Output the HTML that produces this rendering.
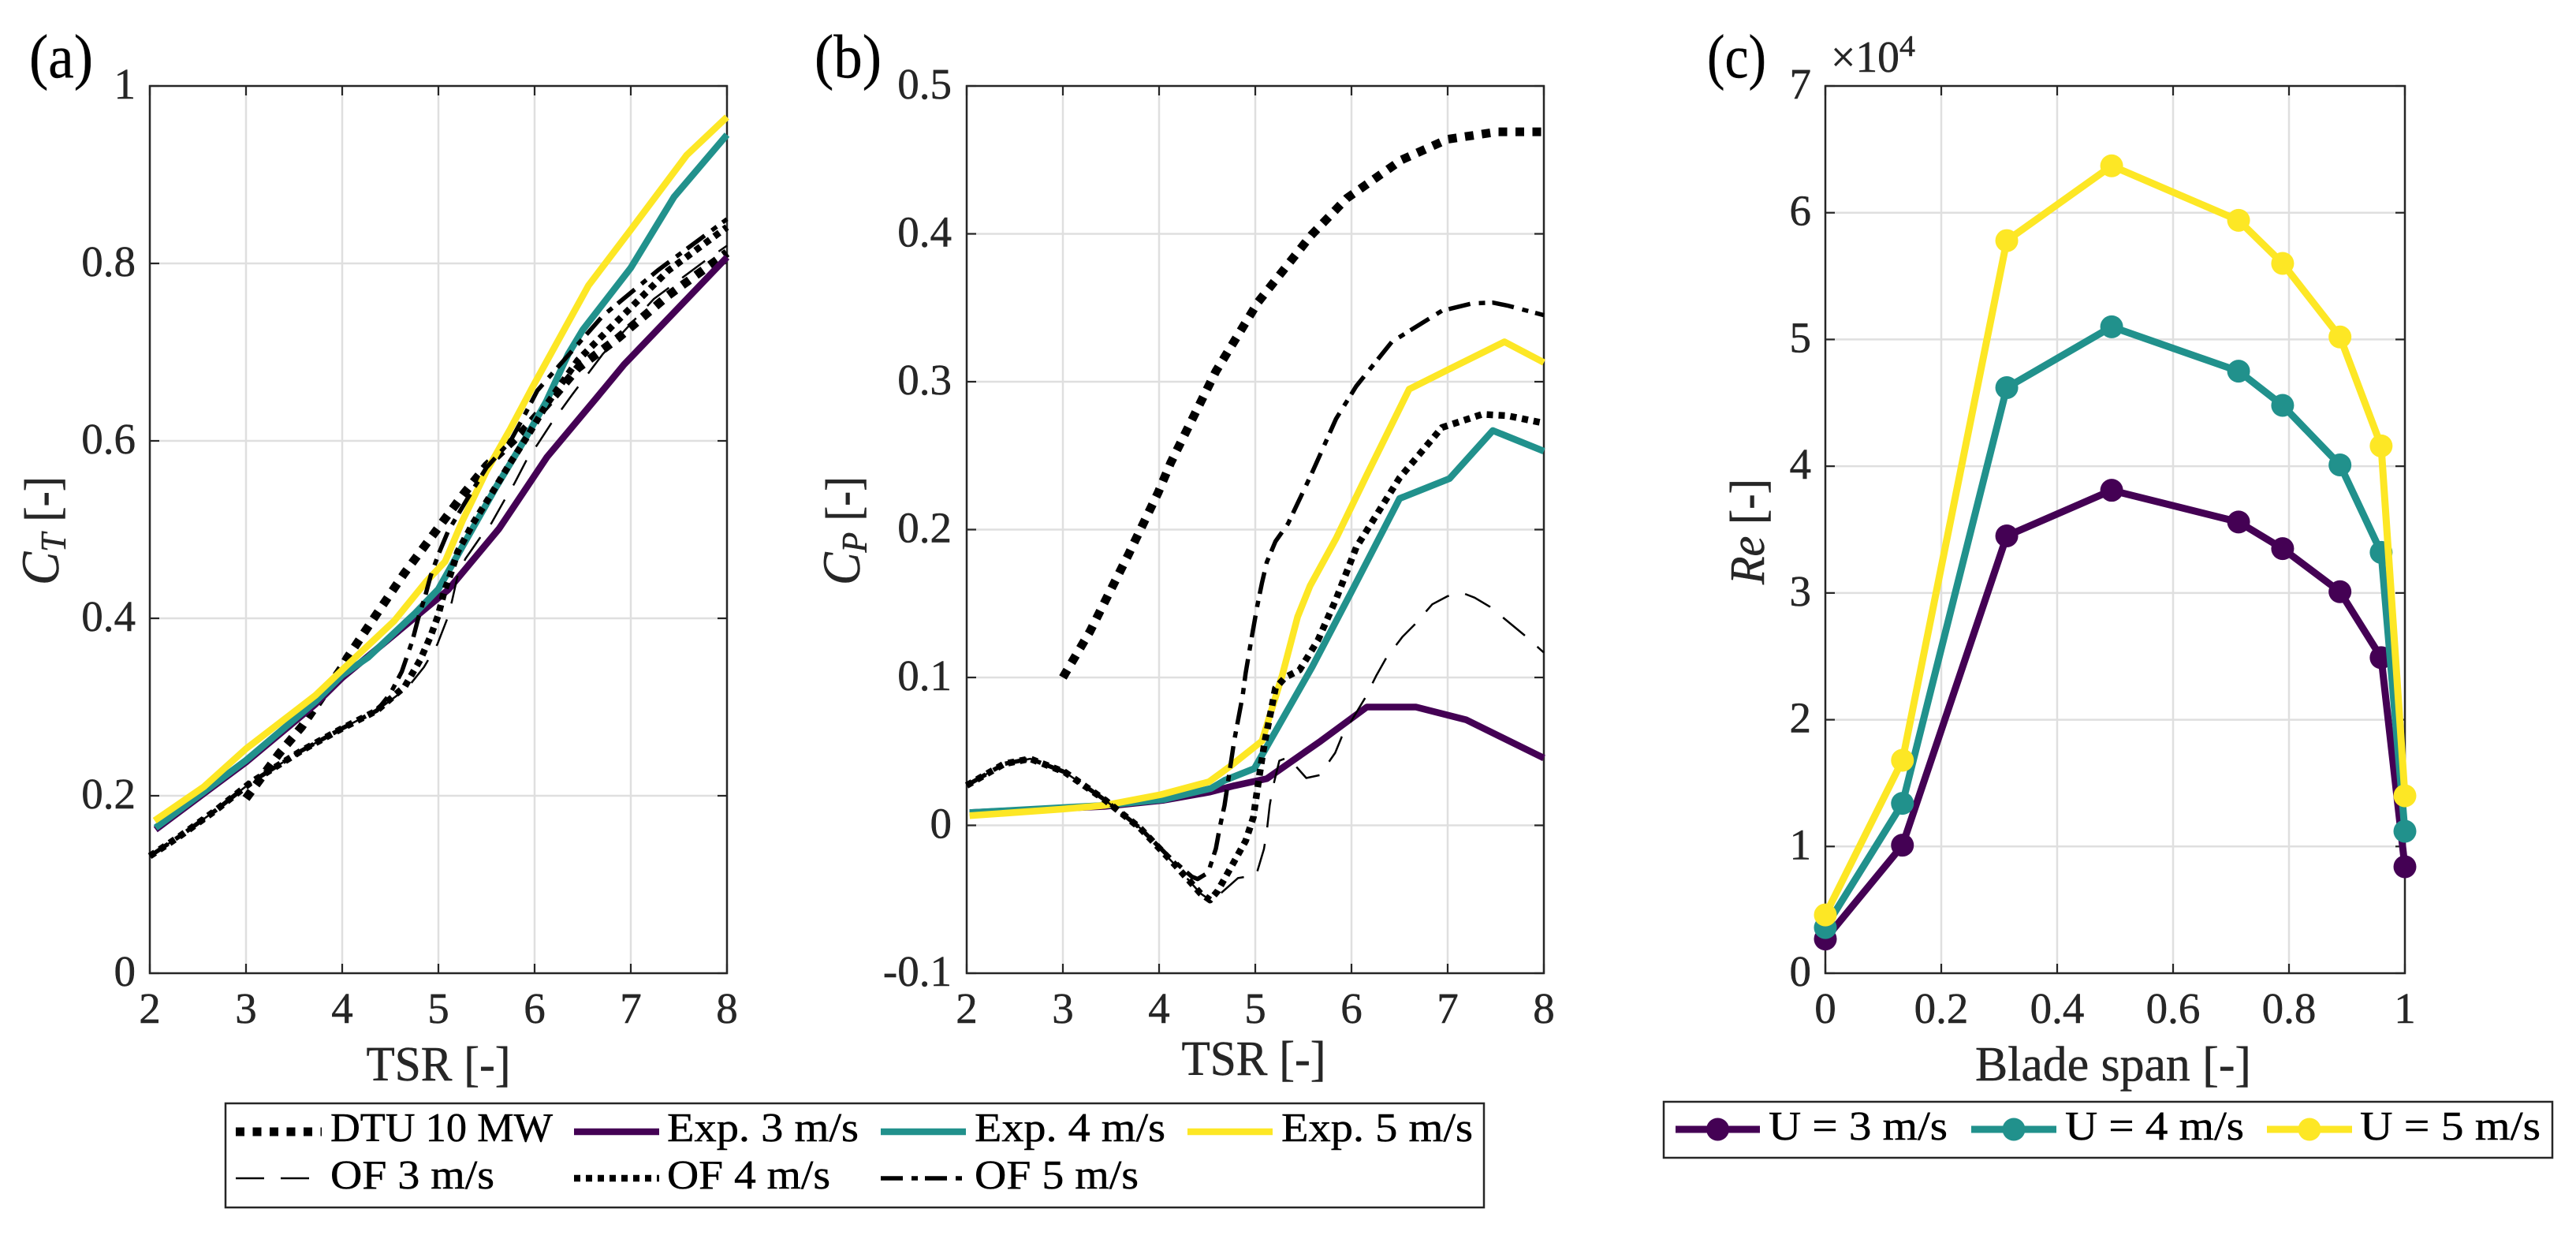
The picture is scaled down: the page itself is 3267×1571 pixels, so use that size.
<!DOCTYPE html>
<html>
<head>
<meta charset="utf-8">
<title>Turbine performance curves</title>
<style>
html,body{margin:0;padding:0;background:#fff;}
svg{display:block;}
text{font-family:"Liberation Serif",serif;fill:#262626;stroke:#262626;stroke-width:.5px;}
.leg{font-size:52px;fill:#000;stroke:#000;}
</style>
</head>
<body>
<svg id="fig" xmlns="http://www.w3.org/2000/svg" width="3267" height="1571" viewBox="0 0 3267 1571">
<rect width="3267" height="1571" fill="#fff"/>
<g id="layer-a"></g>
<g id="layer-b"></g>
<g id="layer-c"></g>

<text x="37" y="98" font-size="78" textLength="81" lengthAdjust="spacingAndGlyphs" style="fill:#000">(a)</text>
<text x="1033" y="98" font-size="78" textLength="85" lengthAdjust="spacingAndGlyphs" style="fill:#000">(b)</text>
<text x="2165" y="98" font-size="78" textLength="75" lengthAdjust="spacingAndGlyphs" style="fill:#000">(c)</text>

<text x="556" y="1370" font-size="62" text-anchor="middle" textLength="183" lengthAdjust="spacingAndGlyphs">TSR [-]</text>
<text x="1590" y="1363" font-size="62" text-anchor="middle" textLength="183" lengthAdjust="spacingAndGlyphs">TSR [-]</text>
<text x="2680" y="1370" font-size="62" text-anchor="middle" textLength="350" lengthAdjust="spacingAndGlyphs">Blade span [-]</text>

<text transform="translate(74 742) rotate(-90)" font-size="62" textLength="138" lengthAdjust="spacingAndGlyphs"><tspan font-style="italic" font-size="68">C</tspan><tspan font-style="italic" font-size="46" dy="9">T</tspan><tspan dy="-9"> [-]</tspan></text>
<text transform="translate(1090 742) rotate(-90)" font-size="62" textLength="138" lengthAdjust="spacingAndGlyphs"><tspan font-style="italic" font-size="68">C</tspan><tspan font-style="italic" font-size="46" dy="9">P</tspan><tspan dy="-9"> [-]</tspan></text>
<text transform="translate(2237 741) rotate(-90)" font-size="62" textLength="134" lengthAdjust="spacingAndGlyphs"><tspan font-style="italic">Re</tspan> [-]</text>

<text x="2322" y="91" font-size="56" textLength="87" lengthAdjust="spacingAndGlyphs">×10</text>
<text x="2409" y="71" font-size="38" textLength="20" lengthAdjust="spacingAndGlyphs">4</text>

<g id="legend-main">
  <rect x="286" y="1399" width="1596" height="132" fill="#fff" stroke="#262626" stroke-width="2.5"/>
  <text class="leg" x="419" y="1447" textLength="282" lengthAdjust="spacingAndGlyphs">DTU 10 MW</text>
  <text class="leg" x="846" y="1447" textLength="243" lengthAdjust="spacingAndGlyphs">Exp. 3 m/s</text>
  <text class="leg" x="1236" y="1447" textLength="242" lengthAdjust="spacingAndGlyphs">Exp. 4 m/s</text>
  <text class="leg" x="1625" y="1447" textLength="243" lengthAdjust="spacingAndGlyphs">Exp. 5 m/s</text>
  <text class="leg" x="419" y="1507" textLength="208" lengthAdjust="spacingAndGlyphs">OF 3 m/s</text>
  <text class="leg" x="846" y="1507" textLength="207" lengthAdjust="spacingAndGlyphs">OF 4 m/s</text>
  <text class="leg" x="1236" y="1507" textLength="208" lengthAdjust="spacingAndGlyphs">OF 5 m/s</text>
</g>
<g id="legend-span">
  <rect x="2110" y="1397" width="1127" height="71" fill="#fff" stroke="#262626" stroke-width="2.5"/>
  <text class="leg" x="2243" y="1445" textLength="227" lengthAdjust="spacingAndGlyphs">U = 3 m/s</text>
  <text class="leg" x="2619" y="1445" textLength="227" lengthAdjust="spacingAndGlyphs">U = 4 m/s</text>
  <text class="leg" x="2993" y="1445" textLength="229" lengthAdjust="spacingAndGlyphs">U = 5 m/s</text>
</g>
</svg>

<script>
// ---- Panel (a): thrust coefficient vs TSR ----
const ctDtuX = [3,3.34,3.58,4,4.05,4.34,4.64,4.95,5.26,5.5,5.88,6.2,6.45,6.87,7.39,8];
const ctDtuY = [.197,.247,.278,.345,.355,.402,.45,.495,.54,.572,.611,.65,.682,.716,.764,.812];
const ctExp3X = [2.06,2.53,3,3.72,4,4.5,4.8,5.1,5.63,6.13,6.64,6.93,8];
const ctExp3Y = [.162,.2,.238,.303,.333,.378,.405,.432,.501,.582,.648,.686,.807];
const ctExp4X = [2.06,2.53,3,3.72,4,4.27,4.76,5,5.25,5.6,5.9,6.12,6.35,6.5,7,7.45,8];
const ctExp4Y = [.164,.202,.24,.306,.336,.356,.406,.433,.481,.548,.602,.644,.698,.725,.795,.875,.945];
const ctExp5X = [2.05,2.56,3,3.72,4,4.54,4.87,5.07,5.25,5.5,5.75,5.98,6.56,7,7.58,8];
const ctExp5Y = [.172,.21,.253,.313,.342,.397,.441,.464,.51,.566,.614,.661,.775,.838,.922,.965];
const ctOf3X = [2,2.32,2.69,3.05,3.58,4,4.36,4.68,4.85,4.99,5.09,5.14,5.2,5.28,5.44,5.55,5.69,5.79,5.92,6.03,6.18,6.29,6.39,6.71,7.24,7.76,8];
const ctOf3Y = [.132,.155,.184,.215,.251,.276,.296,.322,.345,.371,.399,.419,.448,.467,.492,.507,.534,.552,.579,.596,.621,.637,.652,.698,.76,.802,.82];
const ctOf4X = [2,2.32,2.69,3.05,3.58,4,4.36,4.65,4.81,4.92,5,5.06,5.13,5.2,5.36,5.55,5.74,5.93,6.12,6.45,6.98,7.39,8];
const ctOf4Y = [.132,.155,.184,.215,.251,.276,.296,.323,.353,.38,.404,.43,.451,.475,.507,.54,.574,.606,.64,.691,.748,.792,.841];
const ctOf5X = [2,2.32,2.69,3.05,3.58,4,4.36,4.5,4.62,4.73,4.79,4.86,4.92,5,5.1,5.28,5.5,5.75,5.9,6.03,6.71,7.29,8];
const ctOf5Y = [.132,.155,.184,.215,.251,.276,.296,.315,.34,.375,.4,.424,.448,.472,.498,.531,.57,.6,.63,.657,.741,.793,.85];

// ---- Panel (b): power coefficient vs TSR ----
const cpDtuX = [3,3.28,3.68,3.99,4.12,4.59,5.03,5.58,5.95,6.52,7,7.52,7.93,8];
const cpDtuY = [.1,.131,.183,.225,.245,.307,.354,.399,.424,.45,.464,.469,.469,.469];
const cpExp3X = [2.03,3,3.43,4.05,4.52,4.78,5.12,5.68,6.16,6.67,7.19,8];
const cpExp3Y = [.0086,.0115,.0128,.017,.0224,.0268,.0315,.057,.08,.08,.0714,.0455];
const cpExp4X = [2.03,3,3.43,4.05,4.54,4.68,4.99,5.14,5.59,6,6.5,7.02,7.47,8];
const cpExp4Y = [.0086,.012,.0135,.0175,.025,.0304,.0384,.0555,.107,.158,.221,.2345,.267,.253];
const cpExp5X = [2.03,3,3.43,4.02,4.52,4.74,5.07,5.28,5.44,5.57,5.84,6.16,6.6,7,7.59,8];
const cpExp5Y = [.0065,.011,.0135,.0208,.0295,.04,.057,.1015,.141,.162,.194,.237,.295,.308,.327,.313];
const cpOf3X = [2,2.39,2.66,3.02,3.44,3.8,4.17,4.43,4.53,4.61,4.82,5.01,5.09,5.12,5.15,5.18,5.25,5.34,5.53,5.67,5.83,5.9,6.14,6.26,6.36,6.53,6.66,6.84,7,7.16,7.28,7.44,7.66,7.79,8];
const cpOf3Y = [.027,.0416,.045,.036,.017,-.0017,-.027,-.046,-.0505,-.0478,-.0357,-.0336,-.016,-.004,.0135,.025,.0437,.046,.032,.034,.049,.06,.086,.1015,.113,.1275,.136,.1495,.155,.157,.154,.1478,.136,.129,.1168];
const cpOf4X = [2,2.39,2.66,3.02,3.44,3.8,4.17,4.43,4.53,4.61,4.78,4.9,4.98,5.02,5.06,5.1,5.15,5.21,5.31,5.46,5.65,5.84,6.05,6.5,6.94,7.36,7.62,8];
const cpOf4Y = [.027,.0416,.045,.036,.017,-.0017,-.027,-.046,-.0505,-.0443,-.0245,-.0105,.0055,.0235,.041,.057,.073,.0928,.1,.105,.125,.153,.188,.235,.269,.278,.277,.272];
const cpOf5X = [2,2.39,2.66,3.02,3.44,3.8,4.1,4.34,4.4,4.51,4.59,4.63,4.68,4.78,4.87,4.9,4.96,5.02,5.07,5.12,5.21,5.34,5.58,5.84,6.05,6.42,6.94,7.26,7.47,7.62,8];
const cpOf5Y = [.027,.0416,.045,.036,.017,-.0017,-.021,-.0347,-.0363,-.032,-.0158,-.0016,.0135,.057,.088,.103,.126,.148,.164,.178,.192,.204,.237,.275,.297,.327,.348,.353,.3535,.3515,.345];

// ---- Panel (c): Reynolds number vs blade span (x 10^4) ----
const spanStations = [0,.133,.313,.494,.713,.789,.888,.959,1];
const reU3 = [.27,1.01,3.45,3.81,3.56,3.35,3.01,2.49,.84];
const reU4 = [.36,1.34,4.62,5.10,4.75,4.48,4.01,3.32,1.12];
const reU5 = [.46,1.68,5.78,6.37,5.94,5.60,5.02,4.16,1.40];

// ---- Tick values and labels ----
const tsrTicks = [2,3,4,5,6,7,8];
const tsrTickLabels = ['2','3','4','5','6','7','8'];
const ctTicks = [0,.2,.4,.6,.8,1];
const ctTickLabels = ['0','0.2','0.4','0.6','0.8','1'];
const cpTicks = [-.1,0,.1,.2,.3,.4,.5];
const cpTickLabels = ['-0.1','0','0.1','0.2','0.3','0.4','0.5'];
const spanTicks = [0,.2,.4,.6,.8,1];
const spanTickLabels = ['0','0.2','0.4','0.6','0.8','1'];
const reTicks = [0,1,2,3,4,5,6,7];
const reTickLabels = ['0','1','2','3','4','5','6','7'];

const NS = 'http://www.w3.org/2000/svg';
const PURPLE = '#440154', TEAL = '#21918c', YELLOW = '#fde725', AXIS = '#262626', GRID = '#dfdfdf';

function make(tag, parent, attrs) {
  const el = document.createElementNS(NS, tag);
  for (const k in attrs) el.setAttribute(k, attrs[k]);
  parent.appendChild(el);
  return el;
}

function lineStyle(kind) {
  if (kind === 'dtu') return {stroke:'#000','stroke-width':11,'stroke-dasharray':'11 10.5'};
  if (kind === 'exp3') return {stroke:PURPLE,'stroke-width':8.5};
  if (kind === 'exp4') return {stroke:TEAL,'stroke-width':8.5};
  if (kind === 'exp5') return {stroke:YELLOW,'stroke-width':8.5};
  if (kind === 'of3') return {stroke:'#000','stroke-width':2.5,'stroke-dasharray':'36 21'};
  if (kind === 'of4') return {stroke:'#000','stroke-width':8.5,'stroke-dasharray':'8 7'};
  return {stroke:'#000','stroke-width':5.5,'stroke-dasharray':'28 11 8 9'};
}

function drawAxes(layerId, prefix, box, xDom, yDom, xT, xL, yT, yL) {
  const g = document.getElementById(layerId);
  const sx = v => box.x0 + (v - xDom[0]) / (xDom[1] - xDom[0]) * (box.x1 - box.x0);
  const sy = v => box.y1 - (v - yDom[0]) / (yDom[1] - yDom[0]) * (box.y1 - box.y0);
  xT.forEach((t, i) => {
    const x = sx(t);
    if (t !== xDom[0] && t !== xDom[1]) {
      const gl = make('line', g, {x1:x, x2:x, y1:box.y0, y2:box.y1, stroke:GRID, 'stroke-width':2.5});
      
      
    }
    const lab = make('text', g, {x:x, y:box.y1 + 63, 'font-size':55, 'text-anchor':'middle'});
    
    
    lab.textContent = xL[i];
  });
  yT.forEach((t, i) => {
    const y = sy(t);
    if (t !== yDom[0] && t !== yDom[1]) {
      const gl = make('line', g, {x1:box.x0, x2:box.x1, y1:y, y2:y, stroke:GRID, 'stroke-width':2.5});
      
      
    }
    const lab = make('text', g, {x:box.x0 - box.labelGap, y:y + 16, 'font-size':55, 'text-anchor':'end'});
    
    
    lab.textContent = yL[i];
  });
  xT.forEach(t => {
    const x = sx(t);
    const a = make('line', g, {x1:x, x2:x, y1:box.y1, y2:box.y1 - 12, stroke:AXIS, 'stroke-width':2.2});
    
    
    const b = make('line', g, {x1:x, x2:x, y1:box.y0, y2:box.y0 + 12, stroke:AXIS, 'stroke-width':2.2});
    
    
  });
  yT.forEach(t => {
    const y = sy(t);
    const a = make('line', g, {x1:box.x0, x2:box.x0 + 12, y1:y, y2:y, stroke:AXIS, 'stroke-width':2.2});
    
    
    const b = make('line', g, {x1:box.x1, x2:box.x1 - 12, y1:y, y2:y, stroke:AXIS, 'stroke-width':2.2});
    
    
  });
  const frame = make('rect', g, {x:box.x0, y:box.y0, width:box.x1 - box.x0, height:box.y1 - box.y0, fill:'none', stroke:AXIS, 'stroke-width':2.5});
  
  
  return {g, sx, sy};
}

function drawSeries(ax, name, kind, xs, ys) {
  const pts = xs.map((v, i) => ax.sx(v).toFixed(1) + ',' + ax.sy(ys[i]).toFixed(1)).join(' ');
  const attrs = Object.assign({points:pts, fill:'none', 'stroke-linejoin':'round'}, lineStyle(kind));
  const el = make('polyline', ax.g, attrs);
  
  
}

function drawMarkedSeries(ax, name, color, xs, ys) {
  const pts = xs.map((v, i) => ax.sx(v).toFixed(1) + ',' + ax.sy(ys[i]).toFixed(1)).join(' ');
  const el = make('polyline', ax.g, {points:pts, fill:'none', stroke:color, 'stroke-width':9, 'stroke-linejoin':'round'});
  
  
  xs.forEach((v, i) => {
    const c = make('circle', ax.g, {cx:ax.sx(v), cy:ax.sy(ys[i]), r:14.5, fill:color});
    
    
  });
}

const axA = drawAxes('layer-a', 'panel-a', {x0:190, x1:922, y0:109, y1:1234, labelGap:18}, [2,8], [0,1], tsrTicks, tsrTickLabels, ctTicks, ctTickLabels);
const axB = drawAxes('layer-b', 'panel-b', {x0:1226, x1:1958, y0:109, y1:1234, labelGap:19}, [2,8], [-.1,.5], tsrTicks, tsrTickLabels, cpTicks, cpTickLabels);
const axC = drawAxes('layer-c', 'panel-c', {x0:2315, x1:3050, y0:109, y1:1234, labelGap:18}, [0,1], [0,7], spanTicks, spanTickLabels, reTicks, reTickLabels);

drawSeries(axA, 'ct-dtu-10mw', 'dtu', ctDtuX, ctDtuY);
drawSeries(axA, 'ct-exp-3ms', 'exp3', ctExp3X, ctExp3Y);
drawSeries(axA, 'ct-exp-4ms', 'exp4', ctExp4X, ctExp4Y);
drawSeries(axA, 'ct-exp-5ms', 'exp5', ctExp5X, ctExp5Y);
drawSeries(axA, 'ct-of-3ms', 'of3', ctOf3X, ctOf3Y);
drawSeries(axA, 'ct-of-4ms', 'of4', ctOf4X, ctOf4Y);
drawSeries(axA, 'ct-of-5ms', 'of5', ctOf5X, ctOf5Y);

drawSeries(axB, 'cp-dtu-10mw', 'dtu', cpDtuX, cpDtuY);
drawSeries(axB, 'cp-exp-3ms', 'exp3', cpExp3X, cpExp3Y);
drawSeries(axB, 'cp-exp-4ms', 'exp4', cpExp4X, cpExp4Y);
drawSeries(axB, 'cp-exp-5ms', 'exp5', cpExp5X, cpExp5Y);
drawSeries(axB, 'cp-of-3ms', 'of3', cpOf3X, cpOf3Y);
drawSeries(axB, 'cp-of-4ms', 'of4', cpOf4X, cpOf4Y);
drawSeries(axB, 'cp-of-5ms', 'of5', cpOf5X, cpOf5Y);

drawMarkedSeries(axC, 're-u3', PURPLE, spanStations, reU3);
drawMarkedSeries(axC, 're-u4', TEAL, spanStations, reU4);
drawMarkedSeries(axC, 're-u5', YELLOW, spanStations, reU5);

function legendSwatch(name, kind, x0, x1, y) {
  const attrs = Object.assign({x1:x0, x2:x1, y1:y, y2:y}, lineStyle(kind));
  const el = make('line', document.getElementById('legend-main'), attrs);
  
  
}
legendSwatch('legend-swatch-dtu', 'dtu', 299, 408, 1435);
legendSwatch('legend-swatch-exp3', 'exp3', 728, 836, 1435);
legendSwatch('legend-swatch-exp4', 'exp4', 1117, 1225, 1435);
legendSwatch('legend-swatch-exp5', 'exp5', 1506, 1614, 1435);
legendSwatch('legend-swatch-of3', 'of3', 299, 408, 1494);
legendSwatch('legend-swatch-of4', 'of4', 728, 836, 1494);
legendSwatch('legend-swatch-of5', 'of5', 1117, 1225, 1494);

function spanSwatch(name, color, x0, x1, y) {
  const g = document.getElementById('legend-span');
  const el = make('line', g, {x1:x0, x2:x1, y1:y, y2:y, stroke:color, 'stroke-width':9});
  
  
  const c = make('circle', g, {cx:(x0 + x1) / 2, cy:y, r:14.5, fill:color});
  
  
}
spanSwatch('legend-swatch-u3', PURPLE, 2125, 2232, 1432);
spanSwatch('legend-swatch-u4', TEAL, 2500, 2608, 1432);
spanSwatch('legend-swatch-u5', YELLOW, 2875, 2983, 1432);
</script>
</body>
</html>
